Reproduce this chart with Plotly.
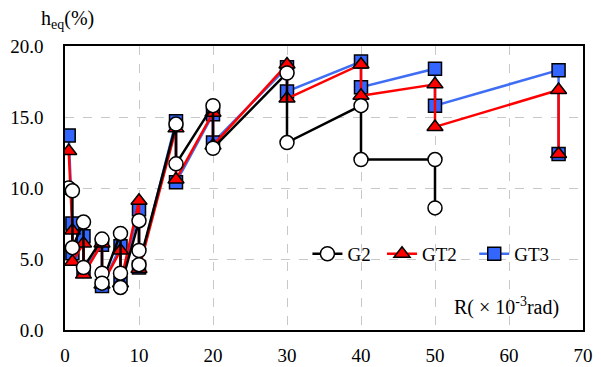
import plotly.graph_objects as go

# G2 series (R x10^-3 rad, heq %)
g2_x = [0.5, 1, 1, 2.5, 2.5, 5, 5, 5, 7.5, 7.5, 7.5, 10, 10, 10, 15, 15, 20, 20, 30, 30, 40, 40, 50, 50]
g2_y = [10.0, 9.8, 5.8, 7.6, 4.4, 6.4, 4.0, 3.3, 6.8, 4.0, 3.0, 7.7, 5.6, 4.6, 14.5, 11.7, 15.8, 12.8, 18.1, 13.2, 15.8, 12.0, 12.0, 8.6]

# GT2 series
gt2_x = [0.5, 1, 1, 2.5, 2.5, 5, 5, 7.5, 7.5, 10, 10, 15, 15, 20, 20, 30, 30, 40, 40, 50, 50, 66.7, 66.7]
gt2_y = [12.6, 7.0, 4.8, 6.1, 3.9, 6.1, 3.2, 5.6, 3.3, 9.1, 4.3, 14.2, 10.6, 15.3, 13.0, 18.7, 16.3, 18.7, 16.5, 17.3, 14.3, 16.9, 12.4]

# GT3 series
gt3_x = [0.5, 1, 1, 2.5, 2.5, 5, 5, 7.5, 7.5, 10, 10, 15, 15, 20, 20, 30, 30, 40, 40, 50, 50, 66.7, 66.7]
gt3_y = [13.7, 7.5, 5.4, 6.6, 4.2, 6.0, 3.1, 5.9, 3.3, 8.5, 4.4, 14.7, 10.4, 15.2, 13.2, 18.5, 16.8, 18.9, 17.1, 18.4, 15.8, 18.3, 12.4]

x_ticks = [0, 10, 20, 30, 40, 50, 60, 70]
y_ticks = [0, 5, 10, 15, 20]

FONT = "'Liberation Serif', 'Times New Roman', Times, serif"
FS = 19
BLUE = "#3F6EF5"
RED = "#FF0000"

fig = go.Figure()
fig.add_trace(go.Scatter(
    x=gt3_x, y=gt3_y, name="GT3", mode="lines+markers", legend="legend3",
    line=dict(color=BLUE, width=2.5),
    marker=dict(symbol="square", size=13, color="#3366FF", line=dict(color="black", width=1.5)),
))
fig.add_trace(go.Scatter(
    x=gt2_x, y=gt2_y, name="GT2", mode="lines+markers", legend="legend2",
    line=dict(color=RED, width=2.5),
    marker=dict(symbol="triangle-up", size=14, color=RED, line=dict(color="black", width=1.5)),
))
fig.add_trace(go.Scatter(
    x=g2_x, y=g2_y, name="G2", mode="lines+markers", legend="legend",
    line=dict(color="black", width=2.5),
    marker=dict(symbol="circle", size=14, color="white", line=dict(color="black", width=1.5)),
))

def leg(x):
    return dict(orientation="h", x=x, y=0.268, xanchor="left", yanchor="middle",
                bgcolor="rgba(0,0,0,0)", font=dict(family=FONT, size=FS),
                itemwidth=30)

fig.update_layout(
    width=601, height=367,
    margin=dict(l=65, r=18, t=46, b=37, autoexpand=False),
    paper_bgcolor="white", plot_bgcolor="white",
    font=dict(family=FONT, size=FS, color="black"),
    showlegend=True,
    legend=leg(0.468),
    legend2=leg(0.612),
    legend3=leg(0.79),
    annotations=[
        dict(text="h<sub>eq</sub>(%)", xref="paper", yref="paper", x=-0.05, y=1.0,
             xanchor="left", yanchor="bottom", yshift=12, showarrow=False,
             font=dict(family=FONT, size=20)),
        dict(text="R( × 10<sup>-3</sup>rad)", xref="paper", yref="paper", x=0.958, y=0.03,
             xanchor="right", yanchor="bottom", showarrow=False,
             font=dict(family=FONT, size=20)),
    ],
)
fig.update_xaxes(
    range=[0, 70], tickvals=x_ticks, ticks="", ticklabelstandoff=7, automargin=False,
    showgrid=True, gridcolor="#C8C8C8", griddash="dash", gridwidth=1.2,
    showline=True, linecolor="black", linewidth=1.5, mirror=True, zeroline=False,
    tickfont=dict(family=FONT, size=FS),
)
fig.update_yaxes(
    range=[0, 20], tickvals=y_ticks, tickformat=".1f", ticks="", ticklabelstandoff=16,
    automargin=False,
    showgrid=True, gridcolor="#C8C8C8", griddash="dash", gridwidth=1.2,
    showline=True, linecolor="black", linewidth=1.5, mirror=True, zeroline=False,
    tickfont=dict(family=FONT, size=FS),
)

fig.write_html("out.html", config={"displayModeBar": False},
               post_script="document.body.style.margin='0';document.body.style.padding='0';")
